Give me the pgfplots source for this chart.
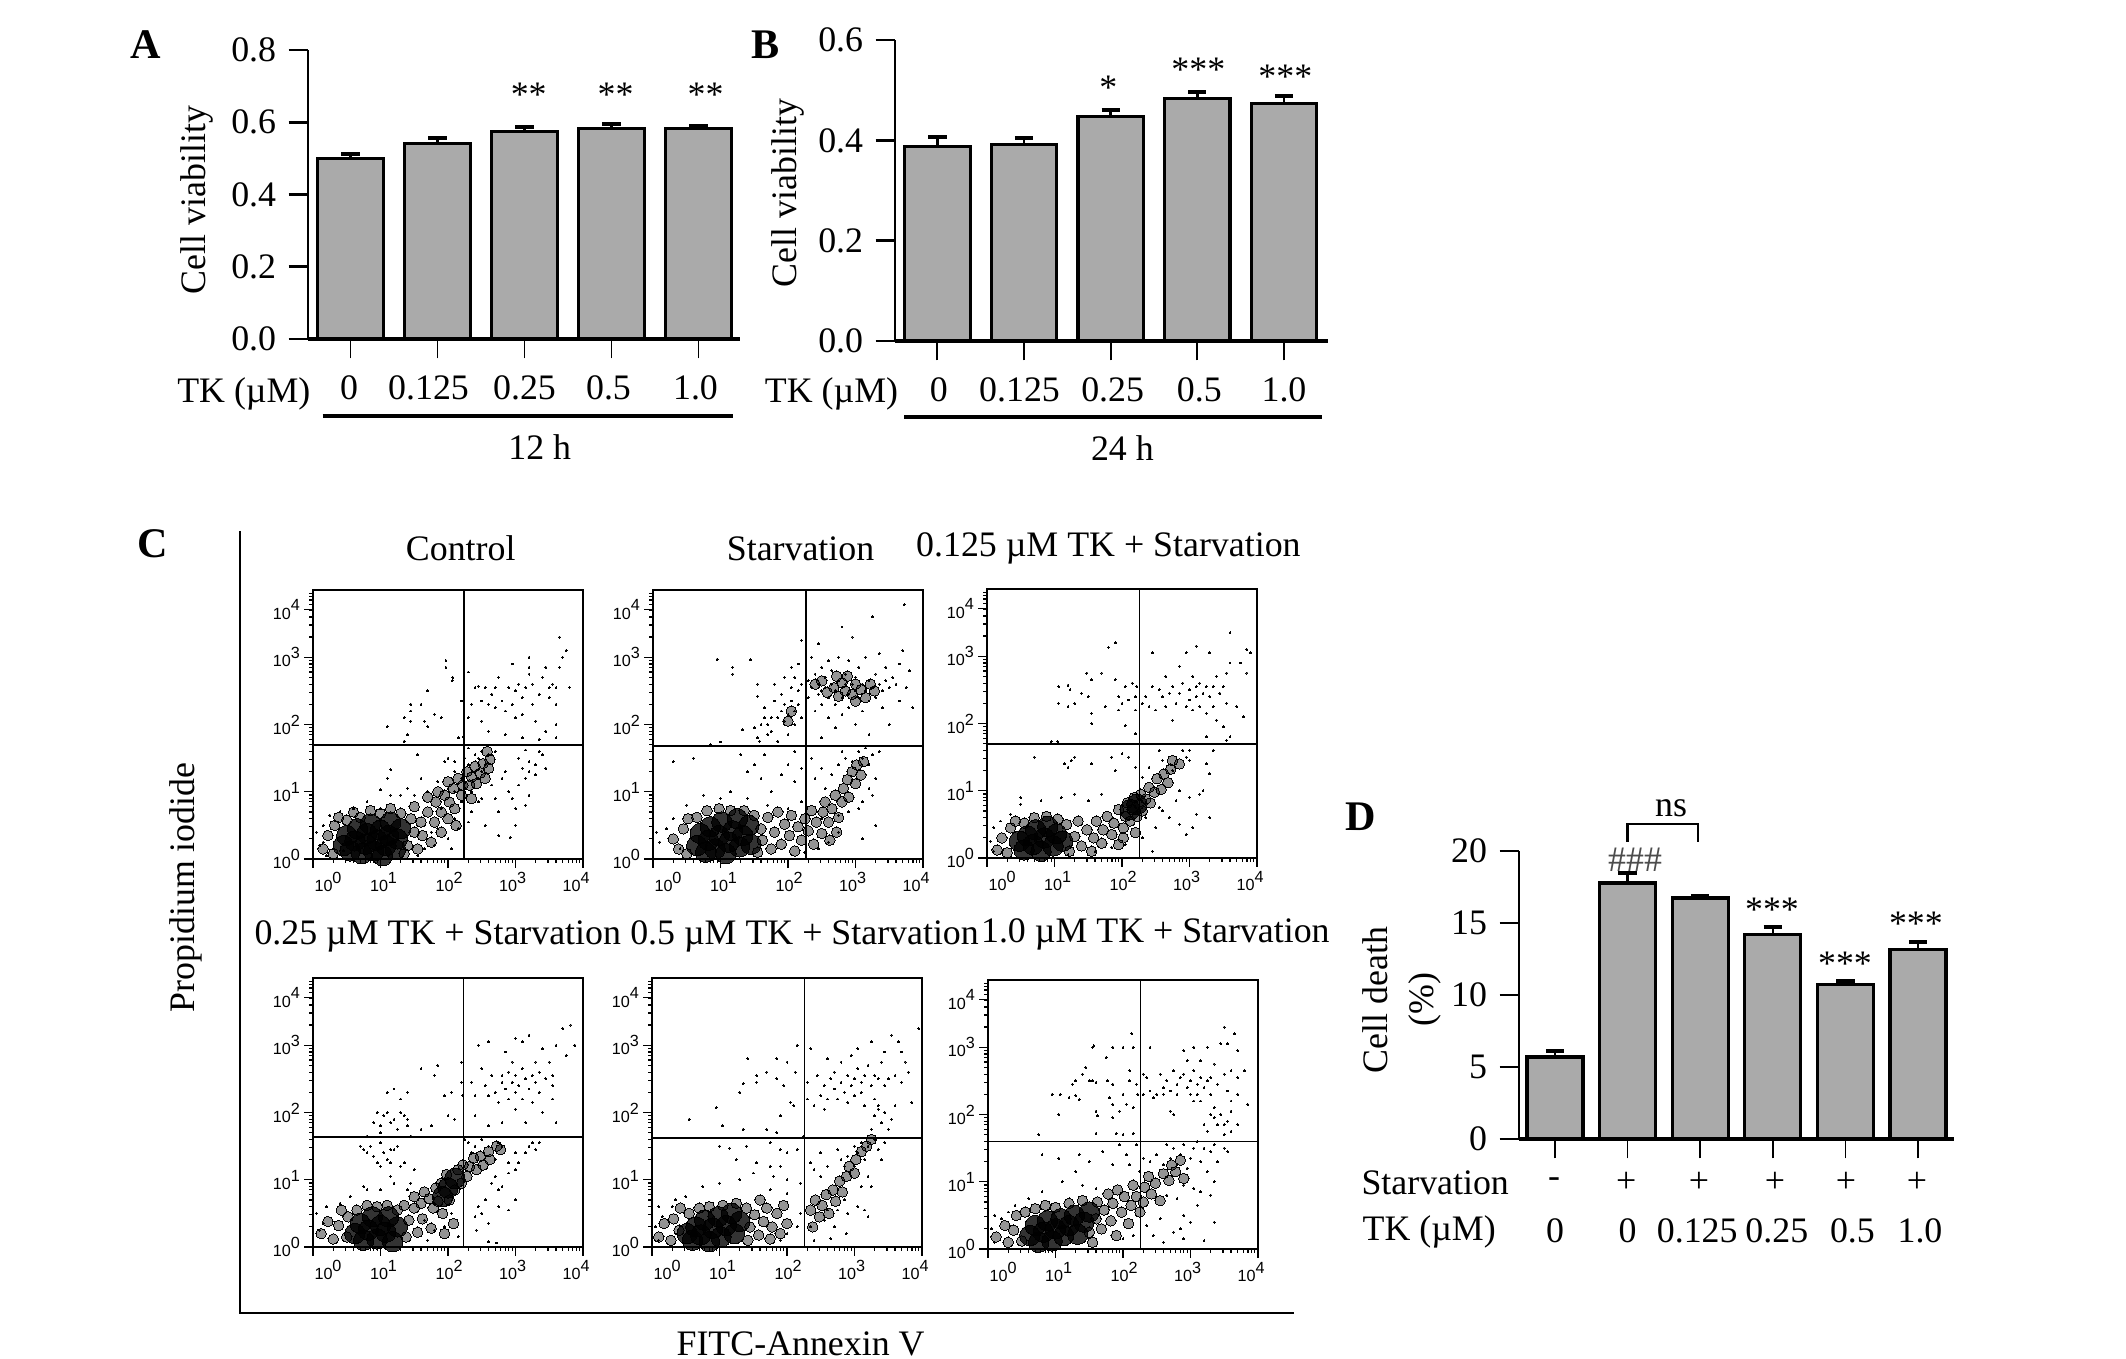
\documentclass[border=0pt]{standalone}
\usepackage{fontspec}
\setmainfont{Liberation Serif}
\newfontfamily\lsans{Liberation Sans}
\usepackage{pgfplots}
\usepackage{pgfplotstable}
\pgfplotsset{compat=1.18}

% bar data: x, mean, error (top of the whisker minus mean)
\pgfplotstableread{
x y e
0 0.500 0.013
1 0.540 0.017
2 0.575 0.011
3 0.582 0.012
4 0.582 0.007
}\dataA
\pgfplotstableread{
x y e
0 0.387 0.019
1 0.392 0.012
2 0.448 0.012
3 0.483 0.013
4 0.474 0.015
}\dataB
\pgfplotstableread{
x y e
0 5.69 0.44
1 17.78 0.69
2 16.74 0.16
3 14.20 0.55
4 10.72 0.28
5 13.17 0.49
}\dataD

\definecolor{barfill}{RGB}{170,170,170}
\newcommand{\basefont}{\fontsize{10.2}{13}\selectfont}
\newcommand{\tinyfont}{\lsans\fontsize{4.6}{5}\selectfont}
\newcommand{\ee}[1]{10\raisebox{0.5em}{#1}}
\newcommand{\txt}[4][]{\node[inner sep=0pt,anchor=center,font=\basefont,#1] at ({#2*0.01},{13.59-#3*0.01}) {#4};}

\pgfplotsset{
  barpanel/.style={
    scale only axis, axis x line*=bottom, axis y line*=left,
    x axis line style={line width=1.1pt,-},
    y axis line style={line width=0.7pt,-},
    tick align=outside, major tick length=0.195cm,
    x tick style={black,line width=0.5pt},
    y tick style={black,line width=0.8pt},
    xtick=data, ymin=0, clip=false,
    tick label style={font=\basefont},
    label style={font=\basefont},
    /pgf/number format/assume math mode=true,
    xticklabel style={yshift=-0.05cm},
    ybar, bar shift=0pt,
  },
  greybar/.style={
    draw=black, fill=barfill, line width=0.9pt,
    error bars/.cd, y dir=plus, y explicit,
    error bar style={line width=0.7pt,black},
    error mark options={rotate=90,mark size=2.6pt,line width=1.1pt,black},
  },
  flow/.style={
    scale only axis, width=2.7cm, height=2.69cm,
    xmin=0, xmax=4, ymin=0, ymax=4,
    tick align=outside, tick pos=left,
    axis line style={line width=0.6pt},
    major tick length=0.09cm, minor tick length=0.04cm,
    every tick/.style={black,line width=0.35pt},
    xtick={0,1,2,3,4}, ytick={0,1,2,3,3.71},
    minor xtick={0.3,0.48,0.6,0.7,0.78,0.85,0.9,0.95,1.3,1.48,1.6,1.7,1.78,1.85,1.9,1.95,2.3,2.48,2.6,2.7,2.78,2.85,2.9,2.95,3.3,3.48,3.6,3.7,3.78,3.85,3.9,3.95},
    minor ytick={0.3,0.48,0.6,0.7,0.78,0.85,0.9,0.95,1.3,1.48,1.6,1.7,1.78,1.85,1.9,1.95,2.3,2.48,2.6,2.7,2.78,2.85,2.9,2.95,3.3,3.48,3.6,3.7,3.78,3.85,3.9,3.95},
    xticklabels={\kern0.3cm\ee{0},\kern0.06cm\ee{1},\kern0.02cm\ee{2},\kern-0.06cm\ee{3},\kern-0.14cm\ee{4}},
    yticklabels={\ee{0},\ee{1},\ee{2},\ee{3},\ee{4}},
    tick label style={font=\tinyfont,inner sep=1pt},
  },
}

% one dot plot: left, bottom (cm), gate x, gate y, dense core, medium cloud, single events
\newcommand{\flowpanel}[7]{
\begin{axis}[flow, at={(#1cm,#2cm)}]
\addplot[only marks, mark=*, mark size=1.5pt, mark options={line width=0pt,draw=none,fill=black,fill opacity=0.42}] coordinates {#6};
\addplot[only marks, mark=*, mark size=2.9pt, mark options={line width=0pt,draw=none,fill=black,fill opacity=0.8}] coordinates {#5};
\addplot[only marks, mark=*, mark size=0.27pt, mark options={line width=0pt,draw=none,fill=black}] coordinates {#7};
\addplot[black,line width=0.5pt] coordinates {(#3,0) (#3,4)};
\addplot[black,line width=0.5pt] coordinates {(0,#4) (4,#4)};
\end{axis}
}

\begin{document}
\begin{tikzpicture}
\useasboundingbox (0,0) rectangle (21.26,13.59);

% A
\begin{axis}[barpanel, at={(3.08cm,10.20cm)}, width=4.32cm, height=2.89cm,
  xmin=-0.489, xmax=4.477, ymax=0.8, bar width=0.76,
  ytick={0,0.2,0.4,0.6,0.8},
  yticklabel style={/pgf/number format/fixed,/pgf/number format/fixed zerofill,/pgf/number format/precision=1},
  xticklabels={\kern-0.03cm0,\kern-0.18cm0.125,0.25,\kern-0.06cm0.5,\kern-0.06cm1.0},
  ylabel={Cell viability},
  y label style={at={(axis description cs:-0.257,0.481)},anchor=center}]
\addplot[greybar] table[x=x,y=y,y error=e] {\dataA};
\end{axis}

% B
\begin{axis}[barpanel, at={(8.95cm,10.18cm)}, width=4.33cm, height=3.01cm,
  xmin=-0.489, xmax=4.508, ymax=0.6, bar width=0.755,
  ytick={0,0.2,0.4,0.6},
  yticklabel style={/pgf/number format/fixed,/pgf/number format/fixed zerofill,/pgf/number format/precision=1},
  xticklabels={0\kern-0.03cm,\kern-0.09cm0.125,0.25\kern-0.04cm,0.5\kern-0.04cm,1.0},
  ylabel={Cell viability},
  y label style={at={(axis description cs:-0.247,0.492)},anchor=center}]
\addplot[greybar] table[x=x,y=y,y error=e] {\dataB};
\end{axis}

% D
\begin{axis}[barpanel, at={(15.19cm,2.20cm)}, width=4.35cm, height=2.88cm,
  xmin=-0.496, xmax=5.496, ymax=20, bar width=0.77,
  ytick={0,5,10,15,20},
  xticklabels={0,0,\kern-0.06cm0.125,0.25\kern-0.08cm,0.5\kern-0.14cm,1.0\kern-0.04cm},
  xticklabel style={yshift=-0.43cm},
  ylabel={Cell death\\(\%)},
  y label style={at={(axis description cs:-0.269,0.483)},anchor=center,align=center}]
\addplot[greybar] table[x=x,y=y,y error=e] {\dataD};
\end{axis}

% C, row 1
\flowpanel{3.13}{5.00}{2.24}{1.70}
{(0.45,0.2)(0.5,0.35)(0.55,0.12)(0.62,0.27)(0.66,0.45)(0.72,0.08)(0.78,0.22)(0.8,0.38)(0.85,0.52)(0.9,0.12)(0.95,0.28)(1.0,0.43)(1.03,0.05)(1.08,0.2)(1.12,0.35)(1.15,0.55)(1.25,0.3)(1.3,0.45)(1.22,0.14)}
{(0.15,0.15)(0.22,0.35)(0.3,0.08)(0.32,0.5)(0.38,0.62)(0.5,0.58)(0.6,0.7)(0.7,0.62)(0.85,0.72)(1.0,0.68)(1.15,0.75)(1.3,0.68)(1.45,0.6)(1.4,0.2)(1.5,0.4)(1.35,0.08)(1.55,0.15)(1.6,0.55)(1.5,0.78)(1.62,0.35)(1.7,0.7)(1.75,0.25)(1.8,0.55)(1.82,0.85)(1.7,0.92)(1.9,0.7)(1.95,0.95)(1.9,0.4)(2.0,0.6)(2.02,0.85)(2.08,1.05)(2.1,0.75)(2.15,1.2)(2.2,0.95)(2.22,1.1)(2.28,1.3)(2.32,1.1)(2.35,1.22)(2.4,1.38)(2.42,1.12)(2.48,1.28)(2.52,1.42)(2.55,1.2)(2.6,1.35)(2.62,1.48)(2.58,1.6)(2.35,0.9)(2.0,1.15)(1.85,1.0)(2.12,0.5)}
{(1.1,1.97)(1.35,1.75)(1.4,1.85)(1.35,2.1)(1.45,2.2)(1.45,2.3)(1.45,2.05)(1.6,2.3)(1.7,2.5)(1.8,2.15)(1.65,2.05)(1.7,1.97)(1.9,2.1)(1.97,2.85)(1.97,2.95)(2.06,2.65)(2.07,2.7)(2.2,2.35)(2.15,1.8)(2.23,1.82)
(2.3,2.78)(2.3,2.1)(2.35,2.3)(2.4,2.55)(2.45,2.57)(2.5,2.35)(2.5,2.05)(2.55,2.55)(2.6,2.3)(2.6,1.9)(2.65,2.45)(2.7,2.25)(2.7,2.55)(2.75,2.7)(2.8,2.35)(2.85,1.85)(2.85,2.2)(2.9,2.55)(2.95,2.3)(2.95,2.9)(3.0,2.5)(3.0,2.1)(3.05,2.6)(3.1,2.4)(3.1,2.15)(3.1,1.8)(3.15,2.55)(3.2,2.75)(3.2,3.0)(3.2,2.85)(3.25,2.3)(3.25,2.6)(3.3,2.05)(3.35,2.45)(3.4,2.7)(3.35,1.78)(3.45,2.85)(3.5,2.55)(3.5,2.4)(3.55,2.6)(3.6,2.3)(3.6,2.55)(3.65,2.85)(3.7,3.0)(3.65,3.3)(3.75,3.1)(3.8,2.55)(3.6,2.0)(3.45,1.9)(3.6,1.8)
(2.3,1.65)(2.45,1.5)(2.55,1.4)(2.6,1.55)(2.4,1.3)(2.35,1.0)(2.45,0.85)(2.55,0.5)(2.5,0.9)(2.65,1.1)(2.7,0.9)(2.75,0.7)(2.8,1.2)(2.85,1.3)(2.9,1.0)(2.95,0.9)(3.0,0.75)(3.05,1.1)(3.1,1.35)(3.0,0.5)(2.75,0.35)(2.92,0.32)(3.15,0.8)(3.2,0.95)(3.05,1.5)(3.15,1.62)(3.3,1.25)(3.15,1.2)(3.2,1.45)(3.4,1.55)(3.3,1.4)(3.45,1.35)(3.35,1.6)(3.2,1.3)
(2.25,1.5)(2.3,1.4)(2.4,1.55)(2.5,1.6)(2.65,1.55)(2.7,1.6)(2.5,1.3)(2.45,1.2)(2.2,1.2)(2.1,1.3)(2.0,1.05)(2.1,1.0)(1.85,1.15)(1.7,1.0)(1.6,1.2)(1.5,0.95)(1.4,1.05)(1.1,1.2)(1.0,1.03)(1.15,1.33)(1.0,0.75)(1.3,0.95)(1.55,1.55)(2.0,1.5)(1.95,1.45)(2.1,1.45)
(0.05,0.4)(0.1,0.2)(0.15,0.5)(0.25,0.65)(0.3,0.15)(0.2,0.05)(0.4,0.7)(0.6,0.75)(0.8,0.85)(1.15,0.95)(1.75,0.4)(1.8,0.2)(2.0,0.3)(2.1,0.6)(2.2,0.85)(1.9,0.75)(1.65,0.15)(1.85,0.45)(2.15,0.45)(2.3,0.55)(2.35,0.7)(2.05,0.15)(1.55,0.05)(0.15,0.25)(0.45,0.12)}

\flowpanel{6.53}{5.00}{2.27}{1.68}
{(0.65,0.2)(0.7,0.38)(0.78,0.1)(0.82,0.28)(0.85,0.48)(0.92,0.15)(0.98,0.35)(1.02,0.55)(1.08,0.08)(1.12,0.25)(1.18,0.42)(1.25,0.6)(1.28,0.18)(1.33,0.35)(1.42,0.5)(1.45,0.22)}
{(0.3,0.3)(0.38,0.15)(0.45,0.45)(0.5,0.08)(0.52,0.6)(0.65,0.62)(0.8,0.72)(0.98,0.75)(1.15,0.72)(1.35,0.72)(1.5,0.65)(1.6,0.45)(1.55,0.1)(1.62,0.28)(1.7,0.62)(1.75,0.15)(1.8,0.4)(1.85,0.7)(1.9,0.22)(1.95,0.52)(2.02,0.35)(2.05,0.65)(2.1,0.12)(2.15,0.48)(2.2,0.28)(2.25,0.6)(2.3,0.42)(2.35,0.72)(2.38,0.22)(2.42,0.55)(2.5,0.38)(2.52,0.7)(2.55,0.85)(2.6,0.55)(2.65,0.75)(2.62,0.28)(2.7,0.95)(2.75,0.62)(2.8,0.85)(2.82,1.05)(2.88,1.18)(2.9,0.92)(2.95,1.3)(3.0,1.12)(3.02,1.4)(3.08,1.25)(3.12,1.45)(2.72,0.4)
(2.4,2.6)(2.5,2.65)(2.58,2.48)(2.68,2.55)(2.75,2.42)(2.8,2.62)(2.85,2.5)(2.88,2.72)(2.95,2.45)(3.0,2.6)(3.08,2.52)(3.15,2.4)(3.22,2.6)(3.28,2.5)(2.72,2.72)(3.0,2.35)(2.05,2.2)(2.0,2.05)}
{(0.85,1.7)(1.0,1.74)(0.95,2.97)(1.18,2.85)(1.18,2.75)(1.44,2.96)(1.55,2.6)(1.33,1.92)(1.55,2.42)(1.5,1.95)(1.55,1.8)(1.58,1.75)(1.6,2.0)(1.65,2.1)(1.65,2.25)(1.7,1.85)(1.7,2.0)(1.75,2.1)(1.75,1.9)(1.8,2.35)(1.8,2.6)(1.85,2.1)(1.85,1.75)(1.9,2.2)(1.9,2.45)(1.95,2.3)(1.95,2.05)(1.95,2.7)(2.0,2.15)(2.0,1.85)(2.05,2.35)(2.05,2.55)(2.05,2.85)(2.1,2.2)(2.1,2.0)(2.1,2.7)(2.15,2.5)(2.15,2.3)(2.15,2.9)(2.2,2.1)(2.2,2.6)(2.2,3.25)
(2.3,2.65)(2.3,2.4)(2.35,2.55)(2.35,3.0)(2.4,2.75)(2.4,2.2)(2.45,2.6)(2.45,2.45)(2.45,3.2)(2.5,2.85)(2.5,2.5)(2.5,2.3)(2.5,1.8)(2.55,2.7)(2.55,2.55)(2.6,2.4)(2.6,2.95)(2.6,2.1)(2.65,2.6)(2.65,2.8)(2.7,2.5)(2.7,2.3)(2.7,1.95)(2.75,2.65)(2.75,3.0)(2.8,2.55)(2.8,2.4)(2.8,2.15)(2.8,3.45)(2.85,2.75)(2.85,2.6)(2.9,2.45)(2.9,2.25)(2.9,2.95)(2.95,2.6)(2.95,3.3)(3.0,2.7)(3.0,2.5)(3.0,2.0)(3.05,2.4)(3.05,2.85)(3.1,2.6)(3.1,2.2)(3.15,2.5)(3.15,3.0)(3.2,2.65)(3.2,2.35)(3.2,1.85)(3.25,3.6)(3.25,2.55)(3.3,2.4)(3.3,2.75)(3.35,2.6)(3.35,3.05)(3.4,2.5)(3.4,2.25)(3.45,2.65)(3.45,2.85)(3.5,2.55)(3.5,2.0)(3.55,2.7)(3.6,2.6)(3.65,2.9)(3.7,3.1)(3.65,2.35)(3.8,2.8)(3.75,2.55)(3.85,2.25)(3.72,3.78)
(2.1,1.6)(1.4,1.3)(1.3,1.55)(0.3,1.45)(0.6,1.5)(1.5,1.4)(1.65,1.55)(1.6,1.2)(1.75,1.0)(1.9,1.25)(2.0,1.4)(2.1,1.15)(2.2,1.35)(2.35,1.5)(2.4,1.2)(2.5,1.35)(2.55,1.05)(2.65,1.25)(2.75,1.4)(2.8,1.6)(2.85,1.5)(2.95,1.45)(3.05,1.6)(3.1,1.5)(3.15,1.65)(3.2,1.4)(3.25,1.55)(3.35,1.6)(3.3,1.2)(3.2,1.05)(3.1,0.85)(3.05,0.75)(3.25,0.95)(3.3,0.5)(3.1,0.3)
(0.05,0.4)(0.1,0.25)(0.2,0.45)(0.3,0.6)(0.4,0.15)(0.5,0.8)(0.75,0.95)(1.0,0.9)(1.15,1.0)(1.4,0.9)(1.7,0.8)(2.0,0.75)(2.2,0.85)(2.45,0.15)(2.6,0.25)(2.75,0.4)(2.9,0.7)(2.25,0.1)(2.5,0.6)(2.75,0.65)}

\flowpanel{9.87}{5.01}{2.26}{1.69}
{(0.48,0.25)(0.55,0.12)(0.6,0.33)(0.68,0.2)(0.72,0.42)(0.8,0.1)(0.85,0.3)(0.9,0.47)(0.98,0.18)(1.03,0.36)(1.12,0.25)(2.12,0.72)(2.22,0.8)}
{(0.15,0.12)(0.22,0.3)(0.3,0.08)(0.35,0.45)(0.42,0.55)(0.55,0.52)(0.7,0.6)(0.88,0.62)(1.05,0.58)(1.18,0.5)(1.22,0.1)(1.3,0.32)(1.35,0.55)(1.4,0.18)(1.48,0.42)(1.55,0.1)(1.58,0.3)(1.62,0.55)(1.7,0.22)(1.72,0.42)(1.78,0.62)(1.85,0.35)(1.88,0.52)(1.95,0.2)(1.95,0.72)(2.02,0.45)(2.05,0.62)(2.08,0.82)(2.12,0.55)(2.15,0.72)(2.18,0.9)(2.22,0.62)(2.25,0.8)(2.28,0.95)(2.3,0.7)(2.35,0.88)(2.4,1.05)(2.42,0.82)(2.48,0.98)(2.52,1.18)(2.58,1.02)(2.62,1.25)(2.68,1.12)(2.72,1.32)(2.75,1.45)(2.85,1.4)(2.02,0.3)(2.2,0.38)}
{(0.95,1.73)(1.05,1.73)(1.06,2.55)(1.2,2.57)(1.23,2.5)(1.06,2.3)(1.2,2.25)(1.3,2.3)(1.4,2.45)(1.48,2.75)(1.55,2.65)(1.5,2.4)(1.55,2.15)(1.55,2.0)(1.7,2.75)(1.75,2.25)(1.8,3.13)(1.9,3.2)(1.9,2.65)(1.95,2.4)(1.95,2.2)(2.0,2.3)(2.05,2.55)(2.05,1.97)(2.1,2.35)(2.15,2.6)(2.2,2.4)(2.2,2.2)(2.22,2.55)(2.2,1.85)
(2.3,2.3)(2.35,2.4)(2.4,2.25)(2.45,2.55)(2.45,3.05)(2.5,2.2)(2.55,2.5)(2.6,2.4)(2.65,2.7)(2.65,2.25)(2.7,2.45)(2.75,2.55)(2.75,2.05)(2.8,2.3)(2.85,2.45)(2.85,2.85)(2.9,2.6)(2.95,2.25)(2.95,3.05)(3.0,2.5)(3.0,2.35)(3.05,2.7)(3.05,2.2)(3.1,2.55)(3.1,2.4)(3.1,3.15)(3.15,2.6)(3.15,2.25)(3.2,2.45)(3.25,2.55)(3.25,2.15)(3.25,1.8)(3.3,2.4)(3.3,3.05)(3.35,2.55)(3.35,2.25)(3.4,2.7)(3.4,2.05)(3.45,2.45)(3.5,2.55)(3.5,1.95)(3.55,2.75)(3.55,2.3)(3.6,2.9)(3.6,1.8)(3.55,1.75)(3.7,2.25)(3.75,2.9)(3.8,2.1)(3.6,3.35)(3.85,3.1)(3.9,3.05)(3.85,2.75)
(0.7,1.5)(1.15,1.4)(1.2,1.35)(1.25,1.45)(1.3,1.5)(1.55,1.4)(1.85,1.5)(1.9,1.3)(2.0,1.55)(2.1,1.5)(2.2,1.35)(2.3,1.2)(2.4,1.35)(2.55,1.6)(2.6,1.45)(2.75,1.3)(2.9,1.6)(2.95,1.5)(3.0,1.45)(3.0,1.6)(3.25,1.4)(3.35,1.6)(3.3,1.25)(3.2,1.0)(3.15,0.95)(3.0,0.9)(3.1,0.65)(3.05,0.45)(2.95,0.35)(3.3,0.6)(2.85,0.5)(2.7,0.6)(2.55,0.75)(2.8,0.85)(2.85,1.0)
(0.05,0.25)(0.1,0.45)(0.2,0.55)(0.35,0.65)(0.5,0.8)(0.8,0.85)(0.5,0.9)(1.1,0.9)(1.3,0.95)(1.5,0.85)(1.7,0.95)(1.6,0.1)(1.85,0.15)(2.05,0.2)(2.3,0.3)(2.35,0.6)(2.45,0.1)(2.5,0.45)(2.6,0.7)(1.2,0.05)(0.1,0.1)}

\txt{461}{549}{Control}
\txt{801}{549}{Starvation}
\txt{1109}{549}{0.125 µM TK + Starvation}

% C, row 2
\flowpanel{3.13}{1.12}{2.23}{1.63}
{(0.62,0.2)(0.7,0.35)(0.75,0.1)(0.82,0.25)(0.88,0.45)(0.95,0.12)(1.0,0.32)(1.08,0.22)(1.12,0.45)(1.18,0.08)(1.25,0.3)(1.92,0.75)(2.0,0.88)(2.1,1.02)}
{(0.12,0.2)(0.22,0.38)(0.3,0.12)(0.38,0.32)(0.42,0.55)(0.5,0.15)(0.52,0.45)(0.65,0.55)(0.8,0.62)(0.95,0.6)(1.1,0.62)(1.25,0.55)(1.35,0.62)(1.38,0.15)(1.42,0.4)(1.5,0.58)(1.5,0.75)(1.55,0.22)(1.6,0.65)(1.65,0.82)(1.62,0.42)(1.72,0.72)(1.75,0.28)(1.78,0.58)(1.82,0.88)(1.85,0.68)(1.9,0.95)(1.92,0.5)(1.98,1.08)(2.02,0.7)(2.1,0.85)(2.15,1.15)(2.2,0.95)(2.22,1.22)(2.28,1.05)(2.32,1.2)(2.38,1.32)(2.42,1.15)(2.48,1.35)(2.52,1.22)(2.6,1.42)(2.62,1.3)(2.72,1.5)(2.78,1.45)(1.95,0.2)(2.08,0.35)}
{(0.8,1.65)(0.85,1.5)(0.75,1.45)(0.9,1.35)(0.95,1.25)(1.0,1.55)(1.05,1.4)(1.1,1.3)(1.15,1.25)(1.2,1.45)(1.25,1.5)(1.0,1.7)(0.9,1.85)(0.95,2.0)(1.0,1.8)(1.05,1.95)(1.1,2.0)(1.15,1.85)(1.2,1.9)(1.25,1.75)(1.3,2.0)(1.35,1.95)(1.4,1.8)(1.4,1.9)(1.45,1.65)(1.2,2.35)(1.1,2.3)(1.3,2.2)(1.4,2.3)(1.6,2.65)(1.6,1.75)(1.75,1.8)(1.85,2.7)(1.8,2.55)(1.95,2.25)(2.0,1.95)(2.05,2.3)(2.1,1.9)(2.2,2.75)(2.2,2.45)(2.22,2.25)
(2.35,2.45)(2.4,2.25)(2.4,1.95)(2.45,3.0)(2.5,2.65)(2.55,2.4)(2.6,2.25)(2.6,3.05)(2.6,1.8)(2.65,2.55)(2.7,2.3)(2.75,2.15)(2.8,2.55)(2.8,2.45)(2.8,1.85)(2.85,2.9)(2.85,2.35)(2.9,2.6)(2.9,2.2)(2.95,2.45)(2.95,2.75)(3.0,2.55)(3.0,2.3)(3.0,2.05)(3.0,3.1)(3.05,2.4)(3.1,2.65)(3.1,2.2)(3.1,3.05)(3.15,2.5)(3.15,1.85)(3.2,2.35)(3.2,3.15)(3.25,2.55)(3.25,2.15)(3.3,2.75)(3.3,2.45)(3.35,2.3)(3.35,2.6)(3.4,2.95)(3.4,2.0)(3.45,2.5)(3.5,2.75)(3.55,2.4)(3.55,2.2)(3.55,2.55)(3.6,3.0)(3.6,1.85)(3.7,3.25)(3.75,2.85)(3.82,3.3)(3.88,3.0)
(0.7,1.5)(0.8,1.4)(1.15,1.45)(1.3,1.2)(1.35,1.25)(1.0,1.2)(0.8,0.85)(1.2,0.95)(1.15,1.05)(1.5,1.15)(2.25,1.6)(2.3,1.55)(2.35,1.4)(2.4,1.5)(2.5,1.6)(2.6,1.5)(2.75,1.55)(2.8,1.5)(2.7,1.3)(2.7,1.05)(2.65,0.95)(2.75,0.85)(2.8,0.9)(2.9,1.1)(2.9,1.25)(3.0,1.4)(3.0,1.15)(3.05,1.25)(3.15,1.4)(3.2,1.5)(3.25,1.55)(3.3,1.45)(3.35,1.55)(2.55,0.7)(2.45,0.6)(2.4,0.45)(2.5,0.5)(2.6,0.35)(2.75,0.6)(2.9,0.55)(3.0,0.7)(2.6,0.08)(2.72,0.06)(2.42,0.25)
(0.05,0.5)(0.1,0.25)(0.15,0.35)(0.2,0.6)(0.4,0.65)(0.55,0.75)(0.75,0.9)(1.0,0.85)(1.4,0.85)(1.45,0.95)(1.65,0.4)(1.8,0.25)(1.95,0.3)(2.05,0.5)(2.15,0.15)(1.7,0.1)}

\flowpanel{6.52}{1.12}{2.26}{1.62}
{(0.52,0.2)(0.6,0.1)(0.65,0.3)(0.72,0.18)(0.78,0.4)(0.85,0.08)(0.9,0.28)(0.98,0.45)(1.02,0.15)(1.1,0.32)(1.18,0.5)(1.22,0.2)(1.3,0.38)}
{(0.1,0.15)(0.18,0.35)(0.28,0.1)(0.32,0.42)(0.4,0.25)(0.42,0.58)(0.55,0.5)(0.7,0.58)(0.85,0.6)(1.05,0.62)(1.25,0.65)(1.4,0.58)(1.42,0.1)(1.45,0.3)(1.52,0.48)(1.58,0.18)(1.6,0.7)(1.65,0.38)(1.7,0.58)(1.75,0.12)(1.78,0.3)(1.85,0.5)(1.9,0.2)(1.95,0.62)(2.0,0.35)
(2.35,0.55)(2.38,0.3)(2.42,0.7)(2.48,0.45)(2.52,0.62)(2.58,0.78)(2.62,0.5)(2.68,0.85)(2.72,0.68)(2.78,0.98)(2.82,0.82)(2.88,1.05)(2.92,1.2)(3.0,1.1)(3.02,1.3)(3.1,1.42)(3.18,1.5)(3.25,1.6)}
{(0.55,1.9)(0.95,2.07)(1.05,1.8)(1.3,2.3)(1.35,2.43)(1.42,2.8)(1.35,1.75)(1.55,2.45)(1.55,2.55)(1.7,2.6)(1.7,1.75)(1.85,2.8)(1.85,2.5)(1.9,1.95)(1.85,1.7)(1.95,2.4)(2.0,2.75)(2.05,2.15)(2.1,2.1)(2.12,2.6)(2.15,3.0)(2.25,1.65)
(2.3,2.45)(2.3,2.2)(2.35,2.95)(2.4,2.1)(2.45,2.55)(2.5,2.25)(2.55,2.4)(2.55,2.05)(2.6,2.8)(2.6,2.2)(2.65,2.5)(2.7,2.35)(2.7,2.6)(2.75,2.2)(2.8,2.45)(2.8,2.75)(2.85,2.3)(2.9,2.55)(2.9,2.15)(2.95,2.4)(2.95,2.85)(3.0,2.5)(3.0,2.25)(3.05,2.65)(3.05,2.95)(3.1,2.45)(3.1,2.3)(3.15,2.55)(3.15,2.1)(3.2,2.7)(3.25,2.4)(3.25,3.05)(3.3,2.55)(3.3,2.2)(3.35,2.5)(3.35,2.05)(3.4,2.75)(3.45,2.4)(3.45,2.9)(3.5,2.5)(3.55,3.15)(3.6,2.55)(3.6,2.1)(3.65,3.05)(3.7,2.45)(3.7,2.9)(3.75,2.75)(3.8,2.6)(3.85,2.15)(3.95,3.25)
(1.0,1.5)(1.15,1.47)(1.25,1.3)(1.4,1.5)(1.75,1.55)(1.9,1.45)(2.0,1.4)(2.15,1.45)(1.9,1.2)(1.75,1.2)(1.55,1.25)(1.5,1.1)(1.8,1.05)(2.0,1.0)(2.2,0.95)(1.3,1.0)(2.35,1.25)(2.4,1.15)(2.5,1.4)(2.5,1.05)(2.6,1.2)(2.75,1.45)(2.8,1.3)(2.85,1.2)(2.9,1.35)(3.0,1.5)(3.0,1.2)(3.05,1.4)(3.1,1.55)(3.15,1.3)(3.2,1.5)(3.3,1.6)(3.35,1.45)(3.4,1.3)(3.45,1.55)(3.25,1.75)(3.3,1.95)(3.4,1.85)(3.45,2.0)(3.5,1.75)(3.35,2.1)(3.55,1.9)(3.2,1.05)(3.25,0.9)(3.1,0.9)(3.05,0.6)(3.15,0.55)(3.2,0.45)
(0.1,0.6)(0.05,0.3)(0.15,0.45)(0.3,0.6)(0.35,0.7)(0.5,0.75)(0.75,0.9)(1.0,0.95)(1.75,0.85)(2.0,0.8)(2.2,0.5)(2.35,0.3)(2.4,0.1)(2.55,0.4)(2.7,0.3)(2.75,0.55)(2.85,0.7)(2.6,0.55)(2.65,0.12)(2.9,0.5)(2.88,0.2)(2.0,0.2)(2.15,0.3)(1.9,0.1)(0.1,0.1)}

\flowpanel{9.88}{1.10}{2.26}{1.60}
{(0.62,0.2)(0.7,0.35)(0.75,0.1)(0.82,0.25)(0.88,0.42)(0.95,0.12)(1.0,0.3)(1.08,0.45)(1.12,0.2)(1.2,0.35)(1.28,0.5)(1.33,0.22)(1.42,0.4)(1.5,0.55)}
{(0.12,0.18)(0.25,0.35)(0.3,0.1)(0.38,0.28)(0.42,0.5)(0.5,0.12)(0.55,0.55)(0.7,0.6)(0.85,0.65)(1.0,0.62)(1.2,0.68)(1.4,0.72)(1.5,0.25)(1.55,0.1)(1.6,0.45)(1.62,0.7)(1.68,0.3)(1.72,0.58)(1.78,0.82)(1.82,0.42)(1.85,0.68)(1.9,0.2)(1.92,0.88)(1.98,0.55)(2.02,0.78)(2.08,0.38)(2.12,0.65)(2.15,0.95)(2.2,0.78)(2.25,0.55)(2.3,0.7)(2.32,0.92)(2.38,1.08)(2.42,0.82)(2.48,0.98)(2.55,0.72)(2.6,1.12)(2.68,1.02)(2.72,1.25)(2.78,1.15)(2.85,1.32)(2.9,1.05)}
{(0.75,1.7)(1.05,2.0)(0.95,2.3)(1.07,2.3)(1.2,2.25)(1.25,2.45)(1.3,2.5)(1.3,2.28)(1.35,2.22)(1.4,2.6)(1.45,2.7)(1.55,2.5)(1.55,3.0)(1.57,3.02)(1.5,2.5)(1.6,2.48)(1.6,1.72)(1.62,1.98)(1.6,2.05)(1.75,2.85)(1.77,2.5)(1.8,2.25)(1.85,2.45)(1.85,2.15)(1.85,3.0)(1.85,1.95)(1.9,1.72)(1.95,2.05)(2.0,3.0)(2.0,2.3)(2.0,1.7)(2.05,2.15)(2.1,2.5)(2.1,2.65)(2.13,3.2)(2.15,3.0)(2.15,2.1)(2.15,1.72)(2.2,2.45)(2.22,2.3)
(2.3,2.6)(2.3,2.3)(2.35,2.55)(2.4,2.35)(2.4,3.0)(2.45,2.25)(2.5,2.3)(2.55,2.6)(2.6,2.4)(2.6,2.3)(2.65,2.5)(2.7,2.35)(2.7,2.05)(2.75,2.65)(2.8,2.45)(2.8,2.3)(2.75,2.0)(2.85,2.55)(2.9,2.95)(2.9,2.6)(2.95,2.4)(2.95,2.8)(3.0,2.5)(3.0,2.3)(3.05,2.65)(3.05,2.2)(3.05,3.0)(3.1,2.45)(3.1,2.3)(3.15,2.55)(3.15,2.2)(3.15,2.8)(3.2,2.4)(3.25,2.5)(3.25,3.0)(3.3,2.3)(3.3,2.55)(3.35,2.75)(3.35,2.1)(3.4,2.45)(3.45,3.05)(3.5,2.6)(3.5,3.3)(3.55,2.35)(3.6,2.65)(3.55,3.05)(3.65,3.2)(3.6,2.2)(3.7,2.55)(3.7,2.95)(3.7,2.3)(3.8,2.65)(3.85,2.15)
(3.2,1.85)(3.25,1.75)(3.3,2.0)(3.35,1.95)(3.4,1.85)(3.45,2.0)(3.5,1.85)(3.55,1.9)(3.5,1.7)(3.6,1.75)(3.6,2.05)(3.7,1.85)
(0.8,1.4)(1.05,1.35)(1.35,1.4)(1.3,1.15)(1.5,1.3)(1.7,1.45)(1.85,1.25)(1.95,1.55)(2.05,1.4)(2.1,1.25)(2.2,1.55)(2.25,1.15)(2.3,1.35)(2.4,1.3)(2.5,1.4)(2.6,1.25)(2.65,1.55)(2.7,1.35)(2.75,1.5)(2.8,1.25)(2.85,1.4)(2.9,1.55)(2.95,1.2)(3.0,1.35)(3.05,1.5)(3.1,1.6)(3.15,1.3)(3.2,1.5)(3.25,1.15)(3.3,1.45)(3.35,1.55)(3.4,1.3)(3.5,1.5)(3.55,1.45)(3.35,1.0)(3.3,0.8)(3.15,0.85)(3.05,0.9)(2.9,0.95)(2.8,0.75)(2.9,0.5)(3.0,0.4)(2.85,0.3)(2.75,0.25)(2.9,0.15)(3.2,0.12)(3.35,0.4)(3.1,0.65)(2.65,0.8)
(0.05,0.3)(0.1,0.5)(0.2,0.45)(0.3,0.55)(0.4,0.65)(0.6,0.75)(0.8,0.85)(1.1,1.0)(1.4,0.95)(1.6,0.9)(2.0,0.15)(2.15,0.2)(2.35,0.35)(2.45,0.2)(2.55,0.45)(2.6,0.1)(0.1,0.1)}

\txt{438}{937}{0.25 µM TK + Starvation}
\txt{805}{937}{0.5 µM TK + Starvation}
\txt{1156}{935}{1.0 µM TK + Starvation}

% panel letters
\txt[font=\fontsize{12}{14}\selectfont\bfseries]{146}{45}{A}
\txt[font=\fontsize{12}{14}\selectfont\bfseries]{766}{45}{B}
\txt[font=\fontsize{12}{14}\selectfont\bfseries]{153}{544}{C}
\txt[font=\fontsize{12}{14}\selectfont\bfseries]{1361}{817}{D}

% A and B captions
\txt{244}{394}{TK (µM)}
\draw[line width=1pt] (3.225,9.43) -- (7.33,9.43);
\txt{540}{447}{12 h}
\txt{832}{394}{TK (µM)}
\draw[line width=1pt] (9.04,9.42) -- (13.22,9.42);
\txt{1123}{448}{24 h}

% significance marks
\txt{529}{95}{**}
\txt{616}{95}{**}
\txt{706}{95}{**}
\txt{1109}{88}{*}
\txt{1199}{70}{***}
\txt{1286}{77}{***}
\txt{1773}{910}{***}
\txt{1846}{964}{***}
\txt{1917}{924}{***}
\txt[text=black!70]{1636}{860}{\#\#\#}
\txt{1672}{809}{ns}
\draw[line width=0.8pt] (16.275,5.17) -- (16.275,5.35) -- (16.98,5.35) -- (16.98,5.17);

% D rows
\txt{1436}{1183}{Starvation}
\txt{1555}{1183}{-}
\txt{1627}{1183}{+}
\txt{1700}{1183}{+}
\txt{1776}{1183}{+}
\txt{1847}{1183}{+}
\txt{1918}{1183}{+}
\txt{1430}{1233}{TK (µM)}

% C frame and axis captions
\draw[line width=0.7pt] (2.40,8.28) -- (2.40,0.46) -- (12.94,0.46);
\txt[rotate=90]{186}{888}{Propidium iodide}
\txt{801}{1345}{FITC-Annexin V}
\end{tikzpicture}
\end{document}
